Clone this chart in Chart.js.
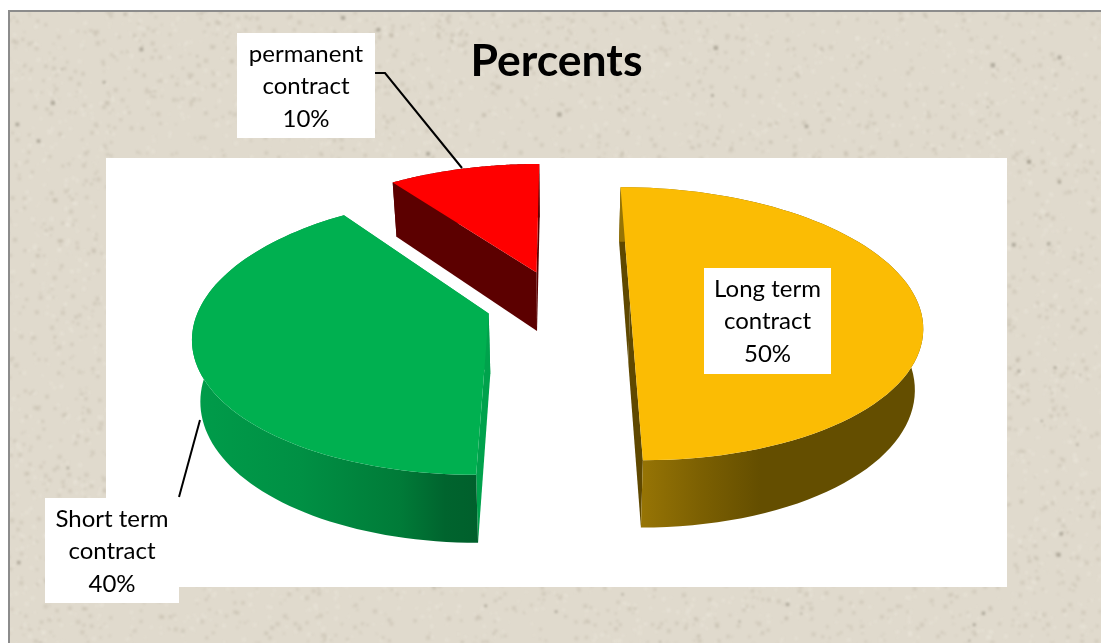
<!DOCTYPE html>
<html>
<head>
<meta charset="utf-8">
<title>Percents</title>
<script src="https://cdn.jsdelivr.net/npm/chart.js@4"></script>
<style>
  html, body { margin: 0; padding: 0; background: #fff; overflow: hidden; }
  #chart { display: block; }
</style>
</head>
<body>
<canvas id="chart" width="1101" height="643"></canvas>
<script>
const categories = ['Long term contract', 'Short term contract', 'permanent contract'];
const percents = [50, 40, 10];
const titleText = 'Percents';

const topColors = ['#fbbc04', '#00b050', '#ff0000'];
const cutColors = ['#5f4800', '#00a24c', '#5c0000'];
const rimStops = [
  [[643, '#967405'], [700, '#7c6002'], [760, '#644e00'], [925, '#644e00']],
  [[195, '#009c4a'], [300, '#009044'], [400, '#007b38'], [445, '#00642e'], [478, '#00602c']],
  [[390, '#5c0000'], [540, '#5c0000']]
];

// every slice is pulled out by a quarter of the radius
const explosion = 0.25;
const camera = { cx: 558, rx: 288, vanishY: -577, dist: 880, persp: 0.1516, depthBase: 19, depthScale: 41, shrink: 0.977 };

const labelBoxes = [
  { x: 704, y: 268, w: 127, h: 106 },
  { x: 45, y: 498, w: 134, h: 105 },
  { x: 237, y: 33, w: 138, h: 105 }
];
const leaders = [
  [[179, 497], [200, 420]],
  [[375, 73], [385, 73], [462, 168]]
];

function project(x, y, bottom) {
  const t = 1 / (1 - camera.persp * y);
  let sx = camera.cx + camera.rx * x * t;
  let sy = camera.vanishY + camera.dist * t;
  if (bottom) {
    sx = camera.cx + (sx - camera.cx) * camera.shrink;
    sy += camera.depthBase + camera.depthScale * t;
  }
  return [sx, sy];
}

function rimPoints(arc, off, bottom) {
  const pts = [];
  const steps = 80;
  for (let i = 0; i <= steps; i++) {
    const a = arc.startAngle + (arc.endAngle - arc.startAngle) * i / steps;
    pts.push(project(off[0] + Math.cos(a), off[1] + Math.sin(a), bottom));
  }
  return pts;
}

function fillPoly(ctx, pts, fill) {
  ctx.beginPath();
  pts.forEach((p, i) => i ? ctx.lineTo(p[0], p[1]) : ctx.moveTo(p[0], p[1]));
  ctx.closePath();
  ctx.fillStyle = fill;
  ctx.fill();
}

// speckled paper, fixed seed so each run looks the same
function makePaper() {
  const tile = document.createElement('canvas');
  tile.width = 1101;
  tile.height = 643;
  const c = tile.getContext('2d');
  let seed = 12345;
  const next = () => (seed = (seed * 16807) % 2147483647) / 2147483647;
  for (let i = 0; i < 9000; i++) {
    const x = next() * 1101, y = next() * 643, s = 1.5 + next() * 3, k = next();
    c.fillStyle = k < 0.5 ? 'rgba(170,160,140,0.22)' : (k < 0.985 ? 'rgba(240,236,226,0.28)' : 'rgba(110,105,90,0.40)');
    c.fillRect(x, y, s, s);
  }
  return tile;
}
const paperTile = makePaper();

const paperPlugin = {
  id: 'paper',
  beforeDraw(chart) {
    const ctx = chart.ctx;
    ctx.save();
    ctx.fillStyle = '#fff';
    ctx.fillRect(0, 0, 1101, 643);
    ctx.fillStyle = '#e0dacd';
    ctx.fillRect(8, 10, 1093, 633);
    ctx.beginPath();
    ctx.rect(8, 10, 1093, 633);
    ctx.clip();
    ctx.filter = 'blur(0.8px)';
    ctx.drawImage(paperTile, 0, 0);
    ctx.filter = 'none';
    ctx.fillStyle = '#8c8c8c';
    ctx.fillRect(8, 10, 1093, 2);
    ctx.fillRect(8, 10, 2, 633);
    ctx.fillStyle = '#fff';
    ctx.fillRect(106, 158, 901, 429);
    ctx.restore();
  }
};

// draws the library's arcs as a tilted 3d pie
const tiltPlugin = {
  id: 'tilt',
  beforeDatasetsDraw(chart) {
    const ctx = chart.ctx;
    const arcs = chart.getDatasetMeta(0).data;
    ctx.save();
    arcs.forEach((arc, i) => {
      const mid = (arc.startAngle + arc.endAngle) / 2;
      const off = [explosion * Math.cos(mid), explosion * Math.sin(mid)];
      const topRim = rimPoints(arc, off, false);
      const lowRim = rimPoints(arc, off, true);
      const apexTop = project(off[0], off[1], false);
      const apexLow = project(off[0], off[1], true);
      const stops = rimStops[i];
      const x0 = stops[0][0], x1 = stops[stops.length - 1][0];
      const grad = ctx.createLinearGradient(x0, 0, x1, 0);
      stops.forEach(s => grad.addColorStop((s[0] - x0) / (x1 - x0), s[1]));
      fillPoly(ctx, [apexTop, topRim[0], lowRim[0], apexLow], cutColors[i]);
      fillPoly(ctx, [apexTop, topRim[topRim.length - 1], lowRim[lowRim.length - 1], apexLow], cutColors[i]);
      fillPoly(ctx, topRim.concat(lowRim.slice().reverse()), grad);
      fillPoly(ctx, [apexTop].concat(topRim), topColors[i]);
    });
    ctx.restore();
    return false;
  }
};

const labelPlugin = {
  id: 'sliceLabels',
  afterDraw(chart) {
    const ctx = chart.ctx;
    ctx.save();
    ctx.strokeStyle = '#000';
    ctx.lineWidth = 2;
    leaders.forEach(line => {
      ctx.beginPath();
      line.forEach((p, i) => i ? ctx.lineTo(p[0], p[1]) : ctx.moveTo(p[0], p[1]));
      ctx.stroke();
    });
    ctx.font = '24px Lato';
    ctx.textAlign = 'center';
    ctx.textBaseline = 'middle';
    categories.forEach((name, i) => {
      const box = labelBoxes[i];
      ctx.fillStyle = '#fff';
      ctx.fillRect(box.x, box.y, box.w, box.h);
      ctx.fillStyle = '#000';
      const lines = [name.replace(' contract', ''), 'contract', percents[i] + '%'];
      lines.forEach((text, n) => {
        ctx.fillText(text, box.x + box.w / 2, box.y + 21 + n * 32.5);
      });
    });
    ctx.restore();
  }
};

new Chart(document.getElementById('chart'), {
  type: 'pie',
  data: {
    labels: categories,
    datasets: [{ data: percents, backgroundColor: topColors, borderWidth: 0 }]
  },
  options: {
    responsive: false,
    animation: false,
    events: [],
    layout: { padding: { left: 12 } },
    plugins: {
      legend: { display: false },
      tooltip: { enabled: false },
      title: {
        display: true,
        text: titleText,
        fullSize: false,
        color: '#000',
        font: { family: 'Lato', size: 44.5, weight: 'bold' },
        padding: { top: 35, bottom: 10 }
      }
    }
  },
  plugins: [paperPlugin, tiltPlugin, labelPlugin]
});
</script>
</body>
</html>
